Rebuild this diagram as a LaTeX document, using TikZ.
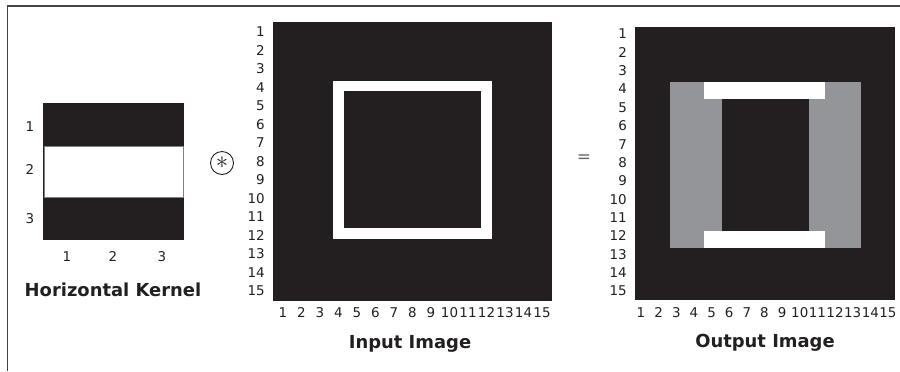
\documentclass[tikz,border=0pt]{standalone}
\usepackage{fontspec}
\setmainfont{DejaVu Sans}
\usepackage{xcolor}
\usetikzlibrary{positioning}
\definecolor{inkblack}{HTML}{231F20}
\definecolor{midgray}{HTML}{939598}
\definecolor{framegray}{HTML}{444444}

\begin{document}
\begin{tikzpicture}[
x=1bp, y=-1bp,
num/.style={font=\fontsize{13.5}{15}\selectfont, text=inkblack, inner sep=0pt},
title/.style={font=\fontsize{18}{20}\selectfont\bfseries, text=inkblack, inner sep=0pt},
dark/.style={fill=inkblack},
light/.style={fill=white},
mid/.style={fill=midgray},
op/.style={text=inkblack, inner sep=0pt}
]
\useasboundingbox (0,0) rectangle (900,371);
% frame
\draw[framegray, line width=2] (7.5,371) -- (7.5,5.5) -- (900,5.5);

% kernel
\fill[dark] (43,103) rectangle (184,240);
\filldraw[light, draw=gray, line width=0.6] (44,146) rectangle (183,197);
\node[num] (krow1) at (30,127) {1};
\node[num] (krow2) at (30,170) {2};
\node[num] (krow3) at (30,219) {3};
\node[num] (kcol1) at (67,257) {1};
\node[num] (kcol2) at (113,257) {2};
\node[num] (kcol3) at (162,257) {3};
\node[title] (ktitle) at (113,290) {Horizontal Kernel};

% convolution sign
\node[op, draw=inkblack, circle, minimum size=23bp, line width=0.9] (conv) at (222,163) {};
\node[op, font=\fontsize{26}{26}\selectfont] at (conv.center) {$\ast$};

% input image
\fill[dark] (273,22) rectangle (552,301);
\fill[light] (333,81) rectangle (492,239);
\fill[dark] (344,91) rectangle (481,228);
\foreach \i in {1,...,15} {
  \node[num, anchor=east] (inrow\i) at (265,{32+(\i-1)*18.5}) {\i};
  \node[num] (incol\i) at ({283+(\i-1)*18.5},313) {\i};
}
\node[title] (intitle) at (410,344) {Input Image};

% equals sign
\node[op, text=gray!80!black, font=\fontsize{17}{18}\selectfont] (equals) at (584,159) {=};

% output image
\fill[dark] (635,27) rectangle (895,300);
\fill[mid] (670,82) rectangle (861,248);
\fill[light] (704,82) rectangle (825,99);
\fill[light] (704,231) rectangle (825,248);
\fill[dark] (722,99) rectangle (809,231);
\foreach \i in {1,...,15} {
  \node[num, anchor=east] (outrow\i) at (627,{34+(\i-1)*18.36}) {\i};
  \node[num] (outcol\i) at ({641+(\i-1)*17.64},313) {\i};
}
\node[title] (outtitle) at (765,343) {Output Image};
\end{tikzpicture}
\end{document}
